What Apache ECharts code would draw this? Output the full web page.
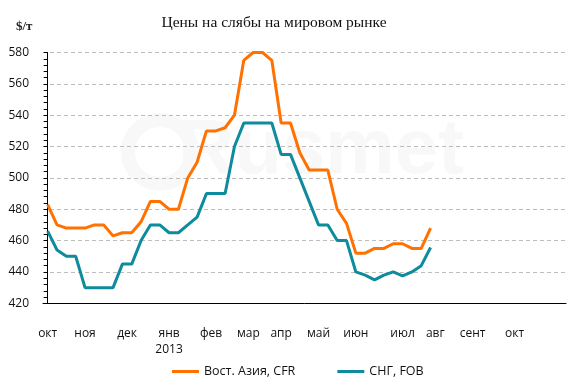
<!DOCTYPE html>
<html>
<head>
<meta charset="utf-8">
<script src="https://cdn.jsdelivr.net/npm/echarts@6/dist/echarts.min.js"></script>
<style>
html,body{margin:0;padding:0;background:#fff;}
#chart{width:569px;height:389px;}
</style>
</head>
<body>
<div id="chart"></div>
<script>
// weekly observations, Oct 2012 – Jul 2013 (week index 0..41)
var asiaCFR = [483,470,468,468,468,470,470,463,465,465,472,485,485,480,480,500,510,530,530,532,540,575,580,580,575,535,535,516,505,505,505,480,471,452,452,455,455,458,458,455,455,468];
var cisFOB  = [466,454,450,450,430,430,430,430,445,445,460,470,470,465,465,470,475,490,490,490,520,535,535,535,535,515,515,500,485,470,470,460,460,440,438,435,438,440,437.5,440,444,455.6];
// month tick labels at week positions
var monthPos    = [0, 4, 8.5, 13, 17.5, 21.5, 25, 29, 33, 38, 41.5, 45.5, 50];
var monthLabels = ['окт','ноя','дек','янв\n2013','фев','мар','апр','май','июн','июл','авг','сент','окт'];
var seriesNames = ['Вост. Азия, CFR','СНГ, FOB'];
var yTicks = {min:420, max:580, step:20};

function pairs(arr){ return arr.map(function(v,i){ return [i, v]; }); }

var chart = echarts.init(document.getElementById('chart'), null, {renderer:'canvas'});
var labelFont = '"Open Sans", "Noto Sans", sans-serif';
chart.setOption({
  animation:false,
  title:{
    text:'Цены на слябы на мировом рынке',
    left:269, top:10, textAlign:'center',
    textStyle:{fontFamily:'"Liberation Serif", serif', fontSize:15.5, fontWeight:'normal', color:'#111'}
  },
  graphic:[
    {type:'text', left:16, top:20, z:10, style:{text:'$/т', font:'bold 13px "Liberation Serif", serif', fill:'#222'}},
    {type:'text', left:178, top:112, z:-1, silent:true, style:{text:'Rusmet', font:'bold 78px "Liberation Sans", sans-serif', fill:'#f8f8f8'}},
    {type:'circle', z:-1, silent:true, shape:{cx:160, cy:152, r:32}, style:{fill:'none', stroke:'#f8f8f8', lineWidth:14}}
  ],
  grid:{left:43, right:1, top:52.5, bottom:85.7, containLabel:false},
  legend:{
    data:seriesNames, bottom:6, left:167, itemGap:42, itemWidth:27, itemHeight:3, icon:'rect',
    textStyle:{fontFamily:labelFont, fontSize:12.5, color:'#111'}
  },
  xAxis:{
    type:'value', min:-0.5, max:55.5, interval:0.5,
    axisLine:{show:true, onZero:false, lineStyle:{color:'#000', width:1}},
    axisTick:{show:false},
    splitLine:{show:false},
    axisLabel:{
      margin:22, color:'#111', fontFamily:labelFont, fontSize:12, lineHeight:16,
      showMinLabel:true, showMaxLabel:true,
      formatter:function(v){
        for (var i=0;i<monthPos.length;i++){ if (Math.abs(monthPos[i]-v)<1e-6) return monthLabels[i]; }
        return '';
      }
    }
  },
  yAxis:{
    type:'value', min:yTicks.min, max:yTicks.max, interval:yTicks.step,
    axisLine:{show:true, lineStyle:{color:'#000', width:1}},
    axisTick:{show:true, inside:false, length:4, lineStyle:{color:'#000'}},
    minorTick:{show:true, splitNumber:5, length:4, lineStyle:{color:'#000'}},
    splitLine:{show:true, lineStyle:{color:'#bdbdbd', type:[4,3], width:1}},
    axisLabel:{margin:14, color:'#111', fontFamily:labelFont, fontSize:12}
  },
  series:[
    {name:seriesNames[0], type:'line', data:pairs(asiaCFR), symbol:'none', z:3,
     lineStyle:{color:'#ff7100', width:3}, itemStyle:{color:'#ff7100'}},
    {name:seriesNames[1], type:'line', data:pairs(cisFOB), symbol:'none', z:3,
     lineStyle:{color:'#0e8b9c', width:3}, itemStyle:{color:'#0e8b9c'}}
  ]
});
</script>
</body>
</html>
